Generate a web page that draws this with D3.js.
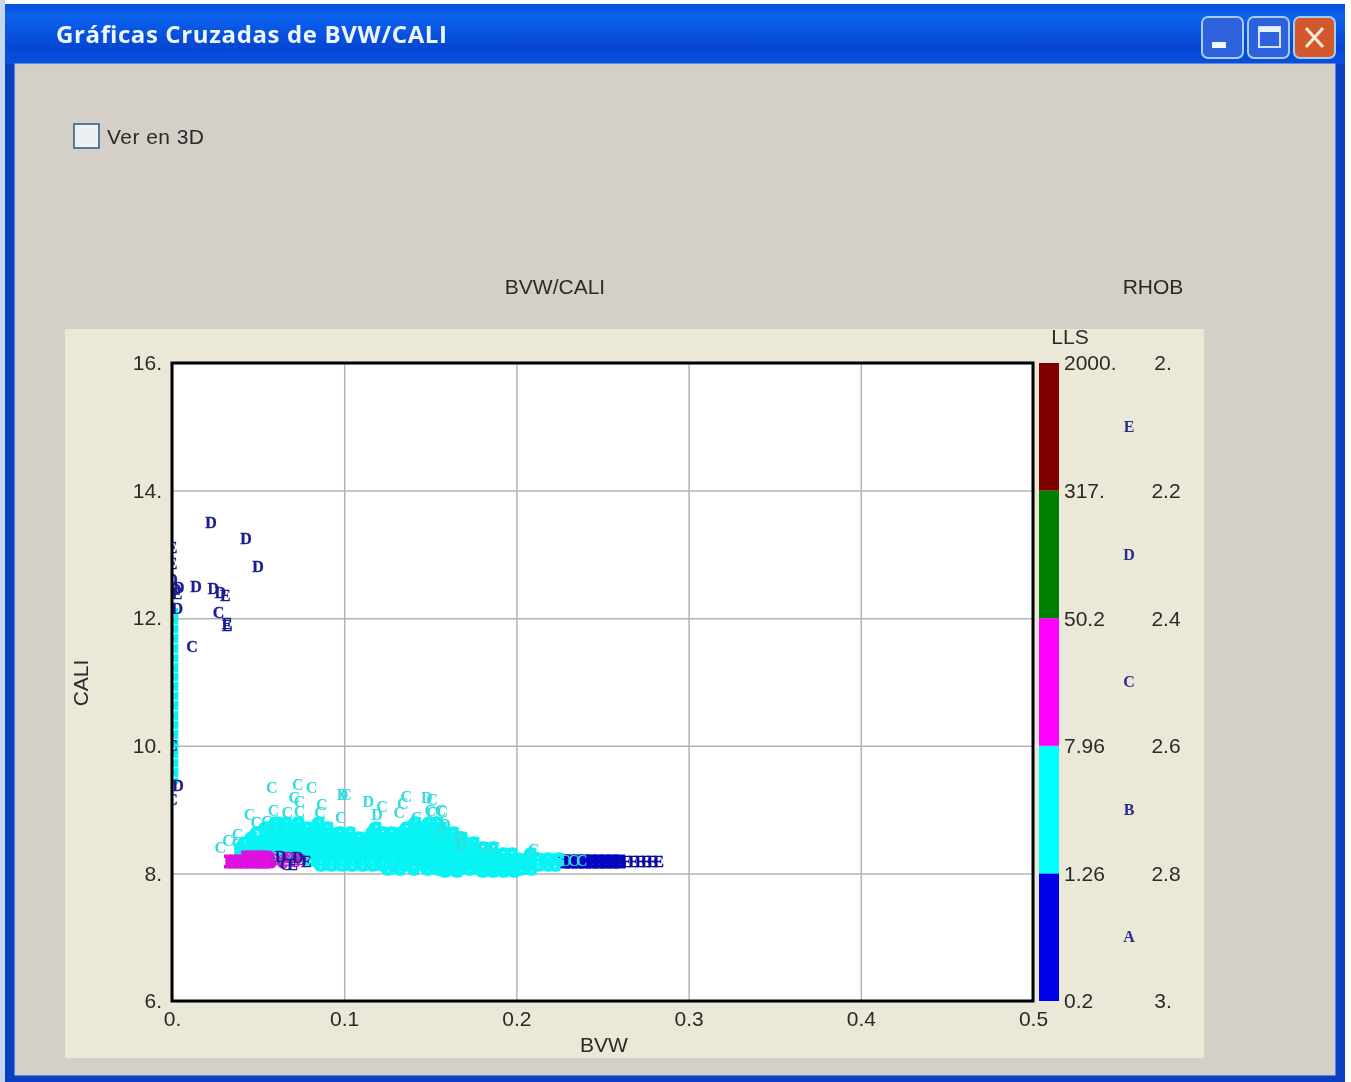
<!DOCTYPE html>
<html>
<head>
<meta charset="utf-8">
<title>Gráficas Cruzadas de BVW/CALI</title>
<script src="https://cdn.jsdelivr.net/npm/d3@7"></script>
<style>
	html, body { margin: 0; padding: 0; background: #fff; }
	svg { display: block; filter: blur(0.55px); }
	text { font-family: "Liberation Sans", Arial, sans-serif; font-size: 21px; fill: #2a2a2a; }
	.mark { font-family: "Liberation Serif", serif; font-size: 16px; font-weight: bold; }
</style>
</head>
<body>
<svg width="1351" height="1082"></svg>
<script>
// tick labels
var bvwTicks = [0, 0.1, 0.2, 0.3, 0.4, 0.5];
var bvwLabels = ["0.", "0.1", "0.2", "0.3", "0.4", "0.5"];
var caliTicks = [6, 8, 10, 12, 14, 16];
var caliLabels = ["6.", "8.", "10.", "12.", "14.", "16."];
var rhobTicks = [3, 2.8, 2.6, 2.4, 2.2, 2];
var rhobLabels = ["3.", "2.8", "2.6", "2.4", "2.2", "2."];
var llsLabels = ["0.2", "1.26", "7.96", "50.2", "317.", "2000."];
var llsColors = ["#0000e6", "#00ffff", "#ff00ff", "#008000", "#7f0000"];
var rhobLetters = ["A", "B", "C", "D", "E"];
var rhobLetterPos = [2.9, 2.7, 2.5, 2.3, 2.1];

// points, [cali, [bvw, ...]] rows for the dense parts
var cyanRows = [
	[8.78, [.06, .066, .073, .085, .141, .149, .154]],
	[8.70, [.054, .06, .066, .072, .078, .084, .09, .118, .136, .143, .15, .156]],
	[8.62, [.049, .055, .061, .067, .073, .079, .085, .091, .097, .103, .116, .122, .127, .133, .139, .145, .151, .157, .163]],
	[8.54, [.046, .054, .06, .066, .072, .078, .084, .09, .096, .102, .108, .114, .12, .126, .132, .138, .144, .15, .156, .162, .168]],
	[8.46, [.042, .049, .055, .061, .067, .073, .079, .085, .091, .097, .103, .109, .115, .121, .127, .133, .139, .145, .151, .157, .163, .169, .175]],
	[8.38, [.04, .048, .054, .06, .066, .072, .078, .084, .09, .096, .102, .108, .114, .12, .126, .132, .138, .144, .15, .156, .162, .168, .174, .18, .186]],
	[8.30, [.04, .046, .052, .06, .066, .072, .078, .084, .09, .096, .102, .108, .114, .12, .126, .132, .138, .144, .15, .156, .162, .168, .174, .18, .186, .192, .197, .208]],
	[8.22, [.08, .086, .092, .098, .104, .11, .116, .122, .128, .134, .14, .146, .152, .158, .164, .17, .176, .182, .188, .194, .2, .206, .212, .218, .224]],
	[8.14, [.086, .092, .098, .104, .11, .116, .122, .128, .134, .14, .146, .152, .158, .164, .17, .176, .182, .188, .194, .2, .206, .212, .218, .222]],
	[8.08, [.125, .132, .14, .148, .154, .16, .166, .172, .178, .184, .19, .196, .202, .208]],
	[8.04, [.158, .165, .18, .186, .192, .198]],
	[12.05, [0]], [11.9, [0]], [11.75, [0]], [11.6, [0]], [11.45, [0]], [11.3, [0]], [11.15, [0]], [11.0, [0]],
	[10.85, [0]], [10.7, [0]], [10.55, [0]], [10.4, [0]], [10.25, [0]], [10.1, [0]], [9.95, [0]], [9.8, [0]], [9.65, [0]], [9.5, [0]]
];
var cyanSparse = [
	[.058, 9.34, "C"], [.073, 9.39, "C"], [.081, 9.35, "C"], [.071, 9.18, "C"], [.074, 9.12, "C"],
	[.099, 9.23, "D"], [.101, 9.23, "C"], [.114, 9.12, "D"], [.122, 9.04, "C"], [.119, 8.92, "D"],
	[.087, 9.07, "C"], [.045, 8.92, "C"], [.059, 8.99, "C"], [.067, 8.95, "C"], [.074, 8.96, "C"],
	[.086, 8.95, "C"], [.098, 8.87, "C"], [.049, 8.79, "C"], [.055, 8.81, "C"], [.038, 8.60, "C"],
	[.028, 8.41, "C"], [.0325, 8.52, "C"], [.038, 8.48, "C"], [.134, 9.10, "C"], [.132, 8.95, "C"],
	[.136, 9.20, "C"], [.148, 9.18, "D"], [.150, 8.99, "C"], [.142, 8.87, "C"], [.156, 8.99, "C"],
	[.151, 9.15, "C"], [.157, 8.96, "C"], [.1585, 8.76, "D"], [.167, 8.57, "D"], [.168, 8.45, "D"],
	[.181, 8.40, "C"], [.1875, 8.40, "C"], [.21, 8.37, "C"], [.156, 8.63, "C"], [.151, 8.95, "C"],
	[.228, 8.2, "C"], [.233, 8.2, "C"], [.238, 8.2, "C"]
];
var magentaRows = [
	[8.25, [.044, .047, .05, .053, .056]],
	[8.19, [.034, .037, .04, .043, .046, .049, .052, .055, .057]]
];
var magentaSparse = [
	[.06, 8.21, "D"], [.064, 8.17, "C"], [.068, 8.24, "D"], [.071, 8.18, "C"], [.075, 8.22, "D"], [.066, 8.2, "E"]
];
var blueRows = [
	[8.18, [.228, .232, .236, .24, .244, .248, .252, .256, .26]]
];
var blueSparse = [
	[.264, 8.18, "E"], [.268, 8.18, "E"], [.272, 8.18, "E"], [.2755, 8.18, "E"], [.279, 8.18, "E"], [.2825, 8.18, "E"]
];
var navySparse = [
	[.0226, 13.49, "D"], [.043, 13.24, "D"], [.05, 12.80, "D"], [.014, 12.49, "D"], [.024, 12.46, "D"],
	[.028, 12.40, "D"], [.031, 12.36, "E"], [.027, 12.09, "C"], [.032, 11.88, "E"], [.032, 11.92, "E"],
	[.0116, 11.55, "C"], [.004, 12.47, "D"], [.003, 12.38, "E"], [.002, 12.44, "D"], [.003, 12.15, "D"],
	[.0035, 9.37, "D"], [0, 13.1, "E"], [0, 12.85, "E"], [0, 12.6, "D"], [0, 10.0, "C"], [0, 9.15, "C"],
	[.063, 8.26, "D"], [.07, 8.14, "E"], [.073, 8.24, "D"], [.078, 8.18, "E"], [.066, 8.13, "C"]
];

var svg = d3.select("svg");

// window frame
var grad = svg.append("defs").append("linearGradient")
	.attr("id", "titlebar")
	.attr("x1", 0).attr("x2", 0).attr("y1", 0).attr("y2", 1);
grad.append("stop").attr("offset", "0%").attr("stop-color", "#0a4fdc");
grad.append("stop").attr("offset", "20%").attr("stop-color", "#0c62ee");
grad.append("stop").attr("offset", "70%").attr("stop-color", "#0648d4");
grad.append("stop").attr("offset", "100%").attr("stop-color", "#0a50dc");

svg.append("clipPath").attr("id", "plotclip")
	.append("rect").attr("x", 171).attr("y", 362).attr("width", 863).attr("height", 640);

svg.append("rect").attr("x", 0).attr("y", 0).attr("width", 5).attr("height", 1082).style("fill", "#c5d6f2");
svg.append("rect").attr("x", 5).attr("y", 4).attr("width", 1340).attr("height", 1078).style("fill", "#0a3fc0");
svg.append("rect").attr("x", 5).attr("y", 4).attr("width", 1340).attr("height", 60).style("fill", "url(#titlebar)");
svg.append("rect").attr("x", 15).attr("y", 64).attr("width", 1320).attr("height", 1011)
	.style("fill", "#d4d0c8").style("stroke", "#b9c9ee").style("stroke-width", 1);

svg.append("text")
	.text("Gráficas Cruzadas de BVW/CALI")
	.attr("x", 56).attr("y", 43)
	.attr("textLength", 391)
	.style("font-family", "'Open Sans', sans-serif")
	.style("font-weight", "bold")
	.style("font-size", "24px")
	.style("fill", "#eef6ff");

// window buttons
var buttons = [
	{ x: 1202, c: "#2d62dc" },
	{ x: 1248, c: "#2d62dc" },
	{ x: 1294, c: "#d4582e" }
];
svg.selectAll("rect.btn")
	.data(buttons)
	.enter()
	.append("rect")
	.attr("class", "btn")
	.attr("x", d => d.x).attr("y", 17)
	.attr("width", 41).attr("height", 41).attr("rx", 6)
	.style("fill", d => d.c)
	.style("stroke", "#a9cdf0").style("stroke-width", 2);
svg.append("rect").attr("x", 1212).attr("y", 42).attr("width", 14).attr("height", 6).style("fill", "#eef6ff");
svg.append("rect").attr("x", 1259).attr("y", 27).attr("width", 21).attr("height", 20)
	.style("fill", "none").style("stroke", "#cfe2fa").style("stroke-width", 2);
svg.append("rect").attr("x", 1259).attr("y", 27).attr("width", 21).attr("height", 5).style("fill", "#e6f1ff");
svg.append("path").attr("d", "M1306,28L1323,47M1323,28L1306,47")
	.style("stroke", "#fbe8d8").style("stroke-width", 3).style("fill", "none");

// checkbox
svg.append("rect").attr("x", 74).attr("y", 124).attr("width", 25).attr("height", 24)
	.style("fill", "#ebf0f5").style("stroke", "#2d5a80").style("stroke-width", 1.5);
svg.append("text").text("Ver en 3D").attr("x", 107).attr("y", 144).attr("textLength", 97);

// chart panel
svg.append("rect").attr("x", 65).attr("y", 329).attr("width", 1139).attr("height", 729).style("fill", "#ebe8d8");

var x = d3.scaleLinear().domain([0, 0.5]).range([172, 1033]);
var y = d3.scaleLinear().domain([6, 16]).range([1001, 363]);
var rhob = d3.scaleLinear().domain([3, 2]).range([1001, 363]);

svg.append("rect")
	.attr("x", x(0)).attr("y", y(16))
	.attr("width", x(0.5) - x(0)).attr("height", y(6) - y(16))
	.style("fill", "#fff");

var xAxis = svg.append("g")
	.attr("transform", "translate(0," + y(6) + ")")
	.call(d3.axisBottom(x)
		.tickValues(bvwTicks)
		.tickFormat((d, i) => bvwLabels[i])
		.tickSize(-(y(6) - y(16)))
		.tickPadding(10));
var yAxis = svg.append("g")
	.attr("transform", "translate(" + x(0) + ",0)")
	.call(d3.axisLeft(y)
		.tickValues(caliTicks)
		.tickFormat((d, i) => caliLabels[i])
		.tickSize(-(x(0.5) - x(0)))
		.tickPadding(10));
svg.selectAll(".domain").remove();
svg.selectAll(".tick line").style("stroke", "#b4b4b4").style("stroke-width", 1.5);
svg.selectAll(".tick text")
	.style("font-family", "'Liberation Sans', Arial, sans-serif")
	.style("font-size", "21px")
	.style("fill", "#2a2a2a");

// points, drawn back to front
function expand(rows, letter){
	var out = [];
	rows.forEach(function(r){
		r[1].forEach(function(v){
			out.push([v, r[0], letter]);
		})
	})
	return out;
}

function drawPoints(name, data, color, strokeW){
	svg.append("g")
		.attr("clip-path", "url(#plotclip)")
		.selectAll("text." + name)
		.data(data)
		.enter()
		.append("text")
		.attr("class", "mark " + name)
		.text(d => d[2])
		.attr("x", d => x(d[0]))
		.attr("y", d => y(d[1]))
		.attr("text-anchor", "middle")
		.attr("dy", "0.33em")
		.style("fill", color)
		.style("stroke", color)
		.style("stroke-width", strokeW);
}

drawPoints("blue", expand(blueRows, "E"), "#0606c0", 3);
drawPoints("bluesparse", blueSparse, "#0a0a9c", 0.4);
drawPoints("cyan", expand(cyanRows, "C"), "#08f4f4", 3.5);
drawPoints("cyansparse", cyanSparse, "#30dcdc", 0);
drawPoints("magenta", expand(magentaRows, "B"), "#e010e0", 3);
drawPoints("magentasparse", magentaSparse, "#c818d0", 0.6);
drawPoints("navy", navySparse, "#1c1c96", 0.3);

// plot frame on top of the points
svg.append("rect")
	.attr("x", x(0)).attr("y", y(16))
	.attr("width", x(0.5) - x(0)).attr("height", y(6) - y(16))
	.style("fill", "none").style("stroke", "#000").style("stroke-width", 3);

// colour bar
svg.selectAll("rect.seg")
	.data(llsColors)
	.enter()
	.append("rect")
	.attr("class", "seg")
	.attr("x", 1039)
	.attr("width", 20)
	.attr("y", (d, i) => rhob(rhobTicks[i + 1]))
	.attr("height", (d, i) => rhob(rhobTicks[i]) - rhob(rhobTicks[i + 1]))
	.style("fill", d => d);

svg.selectAll("text.lls")
	.data(llsLabels)
	.enter()
	.append("text")
	.attr("class", "lls")
	.text(d => d)
	.attr("x", 1064)
	.attr("y", (d, i) => rhob(rhobTicks[i]))
	.attr("dy", "0.35em");

svg.selectAll("text.rhob")
	.data(rhobLabels)
	.enter()
	.append("text")
	.attr("class", "rhob")
	.text(d => d)
	.attr("x", (d) => d.length > 2 ? 1166 : 1163)
	.attr("y", (d, i) => rhob(rhobTicks[i]))
	.attr("dy", "0.35em")
	.attr("text-anchor", "middle");

svg.selectAll("text.key")
	.data(rhobLetters)
	.enter()
	.append("text")
	.attr("class", "mark key")
	.text(d => d)
	.attr("x", 1129)
	.attr("y", (d, i) => rhob(rhobLetterPos[i]))
	.attr("dy", "0.33em")
	.attr("text-anchor", "middle")
	.style("fill", "#2a2a90");

// titles
svg.append("text").text("BVW/CALI").attr("x", 555).attr("y", 294).attr("text-anchor", "middle");
svg.append("text").text("RHOB").attr("x", 1153).attr("y", 294).attr("text-anchor", "middle");
svg.append("text").text("LLS").attr("x", 1070).attr("y", 344).attr("text-anchor", "middle");
svg.append("text").text("BVW").attr("x", 604).attr("y", 1052).attr("text-anchor", "middle");
svg.append("text").text("CALI")
	.attr("transform", "translate(88,683) rotate(-90)")
	.attr("text-anchor", "middle");
</script>
</body>
</html>
